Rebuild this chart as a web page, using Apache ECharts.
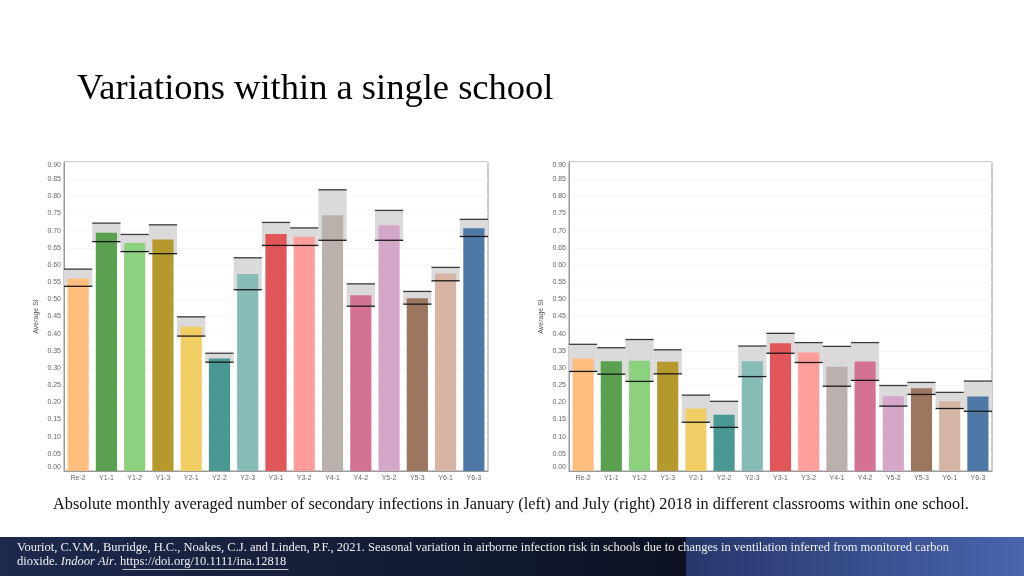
<!DOCTYPE html>
<html>
<head>
<meta charset="utf-8">
<script src="https://cdn.jsdelivr.net/npm/echarts@6/dist/echarts.min.js"></script>
<style>html,body{margin:0;padding:0;background:#fff}#c{width:1024px;height:576px}</style>
</head>
<body>
<div id="c"></div>
<script>
const categories = ['Re-2','Y1-1','Y1-2','Y1-3','Y2-1','Y2-2','Y2-3','Y3-1','Y3-2','Y4-1','Y4-2','Y5-2','Y5-3','Y6-1','Y6-3'];
const barColors = ['#FFBE7D','#59A14F','#8CD17D','#B6992D','#F1CE63','#499894','#86BCB6','#E15759','#FF9D9A','#BAB0AC','#D37295','#D4A6C8','#9D7660','#D7B5A6','#4E79A7'];
// January (left)
const janMean = [0.561,0.694,0.664,0.674,0.420,0.328,0.574,0.690,0.682,0.745,0.512,0.716,0.503,0.575,0.707];
const janLow  = [0.538,0.668,0.639,0.633,0.393,0.317,0.528,0.657,0.657,0.672,0.480,0.672,0.486,0.554,0.683];
const janHigh = [0.588,0.722,0.689,0.717,0.449,0.343,0.621,0.724,0.708,0.819,0.545,0.759,0.523,0.593,0.733];
// July (right)
const julMean = [0.328,0.320,0.321,0.318,0.182,0.164,0.320,0.372,0.345,0.304,0.319,0.218,0.241,0.203,0.217];
const julLow  = [0.290,0.282,0.261,0.283,0.142,0.127,0.275,0.343,0.316,0.247,0.264,0.189,0.223,0.182,0.174];
const julHigh = [0.369,0.359,0.383,0.353,0.221,0.203,0.364,0.401,0.374,0.363,0.374,0.249,0.258,0.229,0.262];
const yTicks = {min:0, max:0.9, interval:0.05};

const title = 'Variations within a single school';
const caption = 'Absolute monthly averaged number of secondary infections in January (left) and July (right) 2018 in different classrooms within one school.';
const refLine1 = 'Vouriot, C.V.M., Burridge, H.C., Noakes, C.J. and Linden, P.F., 2021. Seasonal variation in airborne infection risk in schools due to changes in ventilation inferred from monitored carbon';
const refLine2a = 'dioxide. ';
const refLine2b = 'Indoor Air';
const refLine2c = '. ';
const refLink = 'https://doi.org/10.1111/ina.12818';

const chart = echarts.init(document.getElementById('c'), null, {renderer:'canvas'});

function bandItem(params, api){
  const i = api.value(0);
  const lo = api.coord([i, api.value(1)]);
  const hi = api.coord([i, api.value(2)]);
  const w = api.size([1,0])[0];
  return {type:'rect', shape:{x:lo[0]-w/2, y:hi[1], width:w, height:lo[1]-hi[1]}, style:{fill:'#dadada'}};
}
function lineItem(params, api){
  const i = api.value(0);
  const lo = api.coord([i, api.value(1)]);
  const hi = api.coord([i, api.value(2)]);
  const w = api.size([1,0])[0];
  return {type:'group', children:[
    {type:'line', shape:{x1:lo[0]-w/2, y1:lo[1], x2:lo[0]+w/2, y2:lo[1]}, style:{stroke:'#1a1a1a', lineWidth:1.3}},
    {type:'line', shape:{x1:hi[0]-w/2, y1:hi[1], x2:hi[0]+w/2, y2:hi[1]}, style:{stroke:'#3a3a3a', lineWidth:1.3}}
  ]};
}

const grids = [
  {left:64, top:162, width:424, height:309, show:true, borderColor:'#999', borderWidth:1, backgroundColor:'#fff'},
  {left:569, top:162, width:423, height:309, show:true, borderColor:'#999', borderWidth:1, backgroundColor:'#fff'}
];
function xAx(idx){
  return {type:'category', gridIndex:idx, data:categories,
    axisLine:{show:true, lineStyle:{color:'#999'}}, axisTick:{show:false},
    axisLabel:{fontSize:7, color:'#666', margin:4, interval:0, fontFamily:'Liberation Sans'}};
}
function yAx(idx){
  return {type:'value', gridIndex:idx, min:yTicks.min, max:yTicks.max, interval:yTicks.interval,
    name:'Average SI', nameLocation:'middle', nameGap:24, nameRotate:90,
    nameTextStyle:{fontSize:7, color:'#555', fontFamily:'Liberation Sans'},
    axisLine:{show:true, lineStyle:{color:'#999'}}, axisTick:{show:false},
    splitLine:{show:true, lineStyle:{color:'#f7f7f7'}},
    axisLabel:{fontSize:7, color:'#666', margin:3, fontFamily:'Liberation Sans',
      formatter:v=>v.toFixed(2), verticalAlignMinLabel:'bottom', verticalAlignMaxLabel:'top'}};
}
function seriesFor(idx, mean, low, high){
  const rng = categories.map((c,i)=>[i, low[i], high[i]]);
  return [
    {type:'custom', xAxisIndex:idx, yAxisIndex:idx, renderItem:bandItem, data:rng, z:1, silent:true,
      encode:{x:0, y:[1,2]}},
    {type:'bar', xAxisIndex:idx, yAxisIndex:idx, barWidth:'75%', z:2,
      data:mean.map((v,i)=>({value:v, itemStyle:{color:barColors[i]}}))},
    {type:'custom', xAxisIndex:idx, yAxisIndex:idx, renderItem:lineItem, data:rng, z:3, silent:true,
      encode:{x:0, y:[1,2]}}
  ];
}

const serif = '"Liberation Serif", "DejaVu Serif", serif';
chart.setOption({
  animation:false,
  backgroundColor:'#ffffff',
  grid:grids,
  xAxis:[xAx(0), xAx(1)],
  yAxis:[yAx(0), yAx(1)],
  series:[].concat(seriesFor(0, janMean, janLow, janHigh), seriesFor(1, julMean, julLow, julHigh)),
  graphic:[
    {type:'text', left:77, top:71, style:{text:title, font:'36.5px '+serif, fill:'#000'}},
    {type:'text', left:53, top:497, style:{text:caption, font:'16.3px '+serif, fill:'#111'}},
    {type:'rect', left:0, top:537, shape:{width:686, height:39}, style:{fill:new echarts.graphic.LinearGradient(0,0,1,0,[{offset:0,color:'#1d2a4e'},{offset:1,color:'#0c1222'}])}},
    {type:'rect', left:686, top:537, shape:{width:338, height:39}, style:{fill:new echarts.graphic.LinearGradient(0,0,1,0,[{offset:0,color:'#26376a'},{offset:1,color:'#4a64ae'}])}},
    {type:'text', left:17, top:541, style:{text:refLine1, font:'12.5px '+serif, fill:'#f0f0f0'}},
    {type:'text', left:17, top:555, style:{
      text:'{a|'+refLine2a+'}{b|'+refLine2b+'}{a|'+refLine2c+'}{c|'+refLink+'}',
      rich:{a:{font:'12.5px '+serif, fill:'#f0f0f0'}, b:{font:'italic 12.5px '+serif, fill:'#f0f0f0'}, c:{font:'12.5px '+serif, fill:'#f0f0f0'}}}},
    {type:'line', left:120, top:567, shape:{x1:0,y1:0,x2:166,y2:0}, style:{stroke:'#f0f0f0', lineWidth:0.8}}
  ]
});
</script>
</body>
</html>
